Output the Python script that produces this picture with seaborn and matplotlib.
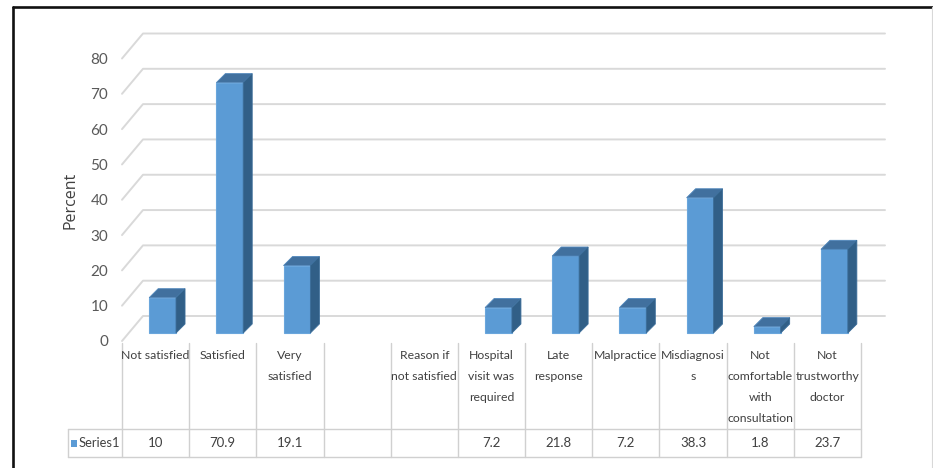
import numpy as np
import pandas as pd
import matplotlib
matplotlib.use("Agg")
import matplotlib.pyplot as plt
import seaborn as sns
from matplotlib.patches import Polygon, Rectangle
from matplotlib.lines import Line2D
from matplotlib.transforms import ScaledTranslation, IdentityTransform
from matplotlib import font_manager

# ---------------- data ----------------
categories = ["Not satisfied", "Satisfied", "Very satisfied", " ", "Reason if not satisfied",
              "Hospital visit was required", "Late response", "Malpractice", "Misdiagnosis",
              "Not comfortable with consultation", "Not trustworthy doctor"]
table_labels = ["Not satisfied", "Satisfied", "Very\nsatisfied", "", "Reason if\nnot satisfied",
                "Hospital\nvisit was\nrequired", "Late\nresponse", "Malpractice", "Misdiagnosi\ns",
                "Not\ncomfortable\nwith\nconsultation", "Not\ntrustworthy\ndoctor"]
values = [10, 70.9, 19.1, np.nan, np.nan, 7.2, 21.8, 7.2, 38.3, 1.8, 23.7]
series_name = "Series1"
y_ticks = [0, 10, 20, 30, 40, 50, 60, 70, 80]
y_label = "Percent"

# ---------------- style ----------------
sns.set_style("white")
avail = {f.name for f in font_manager.fontManager.ttflist}
narrow = [f for f in ["DejaVu Sans Condensed", "Liberation Sans Narrow", "Lato"] if f in avail]
FAM = narrow[:1] + ['DejaVu Sans']
plt.rcParams['font.family'] = FAM

FRONT = "#5b9bd5"
TOP = "#41709e"
SIDE = "#315f87"
GRID = "#d9d9d9"
TXT = "#404040"

W, H = 933, 468
DPI = 100
fig = plt.figure(figsize=(W / DPI, H / DPI), dpi=DPI)
fig.patch.set_facecolor("white")


def fx(px):
    return px / W


def fy(py):
    return 1 - py / H


ax = fig.add_axes([fx(122), fy(341), (861 - 122) / W, (341 - 58.5) / H])

df = pd.DataFrame({"category": categories, "value": values})
sns.barplot(data=df, x="category", y="value", order=categories, color=FRONT,
            saturation=1, width=0.4, errorbar=None, ax=ax,
            edgecolor="#6aa6dc", linewidth=0.8, zorder=3)

ax.set_xlim(-0.5, len(categories) - 0.5)
ax.set_ylim(0, 80)
for s in ax.spines.values():
    s.set_visible(False)
ax.set_xlabel("")
ax.set_ylabel("")
ax.tick_params(axis="x", length=0, labelbottom=False)
ax.set_yticks(y_ticks)
ax.set_yticklabels([str(t) for t in y_ticks])
ax.tick_params(axis="y", length=0, pad=10, labelsize=11, labelcolor="#595959")
ax.patch.set_alpha(0)

fig.canvas.draw()

# 3D offsets in pixels (right, up)
FOFF = (7, 8)      # bar front plane
BDEP = (9, 9)      # bar depth
WALL = (21, 25)    # back wall

to_disp = ax.transData.transform

for p in list(ax.patches):
    h = p.get_height()
    if not np.isfinite(h):
        continue
    p.set_transform(ax.transData + ScaledTranslation(FOFF[0] / DPI, FOFF[1] / DPI, fig.dpi_scale_trans))
    p.set_clip_on(False)
    x0 = p.get_x()
    x1 = x0 + p.get_width()
    bl = to_disp((x1, 0)) + np.array(FOFF)
    tl = to_disp((x0, h)) + np.array(FOFF)
    tr = to_disp((x1, h)) + np.array(FOFF)
    d = np.array(BDEP)
    top = Polygon([tl, tr, tr + d, tl + d], closed=True, facecolor=TOP,
                  edgecolor="#4f86bb", linewidth=0.6, transform=IdentityTransform(),
                  clip_on=False, zorder=3)
    side = Polygon([bl, tr, tr + d, bl + d], closed=True, facecolor=SIDE,
                   edgecolor="#3b6d99", linewidth=0.6, transform=IdentityTransform(),
                   clip_on=False, zorder=3)
    ax.add_patch(top)
    ax.add_patch(side)

xl, xr = -0.5, len(categories) - 0.5
for v in y_ticks:
    f = to_disp((xl, v))
    b = f + np.array(WALL)
    r = to_disp((xr, v)) + np.array((WALL[0] + 3, WALL[1]))
    ax.add_line(Line2D([f[0], b[0], r[0]], [f[1], b[1], r[1]], color=GRID, lw=1.4,
                       transform=IdentityTransform(), clip_on=False, zorder=1))

fig.text(fx(70), fy(200), y_label, rotation=90, ha="center", va="center",
         fontsize=11.5, color=TXT, family=["Open Sans", "DejaVu Sans"])

# ---------------- data table ----------------
inv = fig.transFigure.inverted()


def colx(xd):
    return inv.transform(to_disp((xd, 0)))[0]


TL = "#d0d0d0"
for i in range(len(categories) + 1):
    x = colx(i - 0.5)
    fig.add_artist(Line2D([x, x], [fy(343), fy(457)], color=TL, lw=1.0))
fig.add_artist(Line2D([fx(68), fx(68)], [fy(429), fy(457)], color=TL, lw=1.0))
for yy in (429, 457):
    fig.add_artist(Line2D([fx(68), colx(xr)], [fy(yy), fy(yy)], color=TL, lw=1.0))

for i, (lab, v) in enumerate(zip(table_labels, values)):
    xc = colx(i)
    fig.text(xc, fy(350), lab, ha="center", va="top", fontsize=8.8, color=TXT,
             linespacing=2.1, multialignment="center")
    txt = f"{v:g}" if np.isfinite(v) else ""
    fig.text(xc, fy(443), txt, ha="center", va="center", fontsize=9.5, color=TXT)

fig.add_artist(Rectangle((fx(71), fy(447)), 6 / W, 7 / H, facecolor=FRONT,
                         edgecolor="none", transform=fig.transFigure))
fig.text(fx(79), fy(443), series_name, ha="left", va="center", fontsize=9.3, color=TXT)

# ---------------- outer frame ----------------
fig.add_artist(Line2D([fx(12.5), fx(12.5)], [0, fy(6.5)], color="#111111", lw=1.9))
fig.add_artist(Line2D([fx(12.5), fx(932)], [fy(6.5), fy(6.5)], color="#111111", lw=1.9))
fig.add_artist(Line2D([fx(932), fx(932)], [0, fy(6.5)], color="#d8d8d8", lw=0.8))

fig.savefig("out.png", dpi=DPI, facecolor="white")
